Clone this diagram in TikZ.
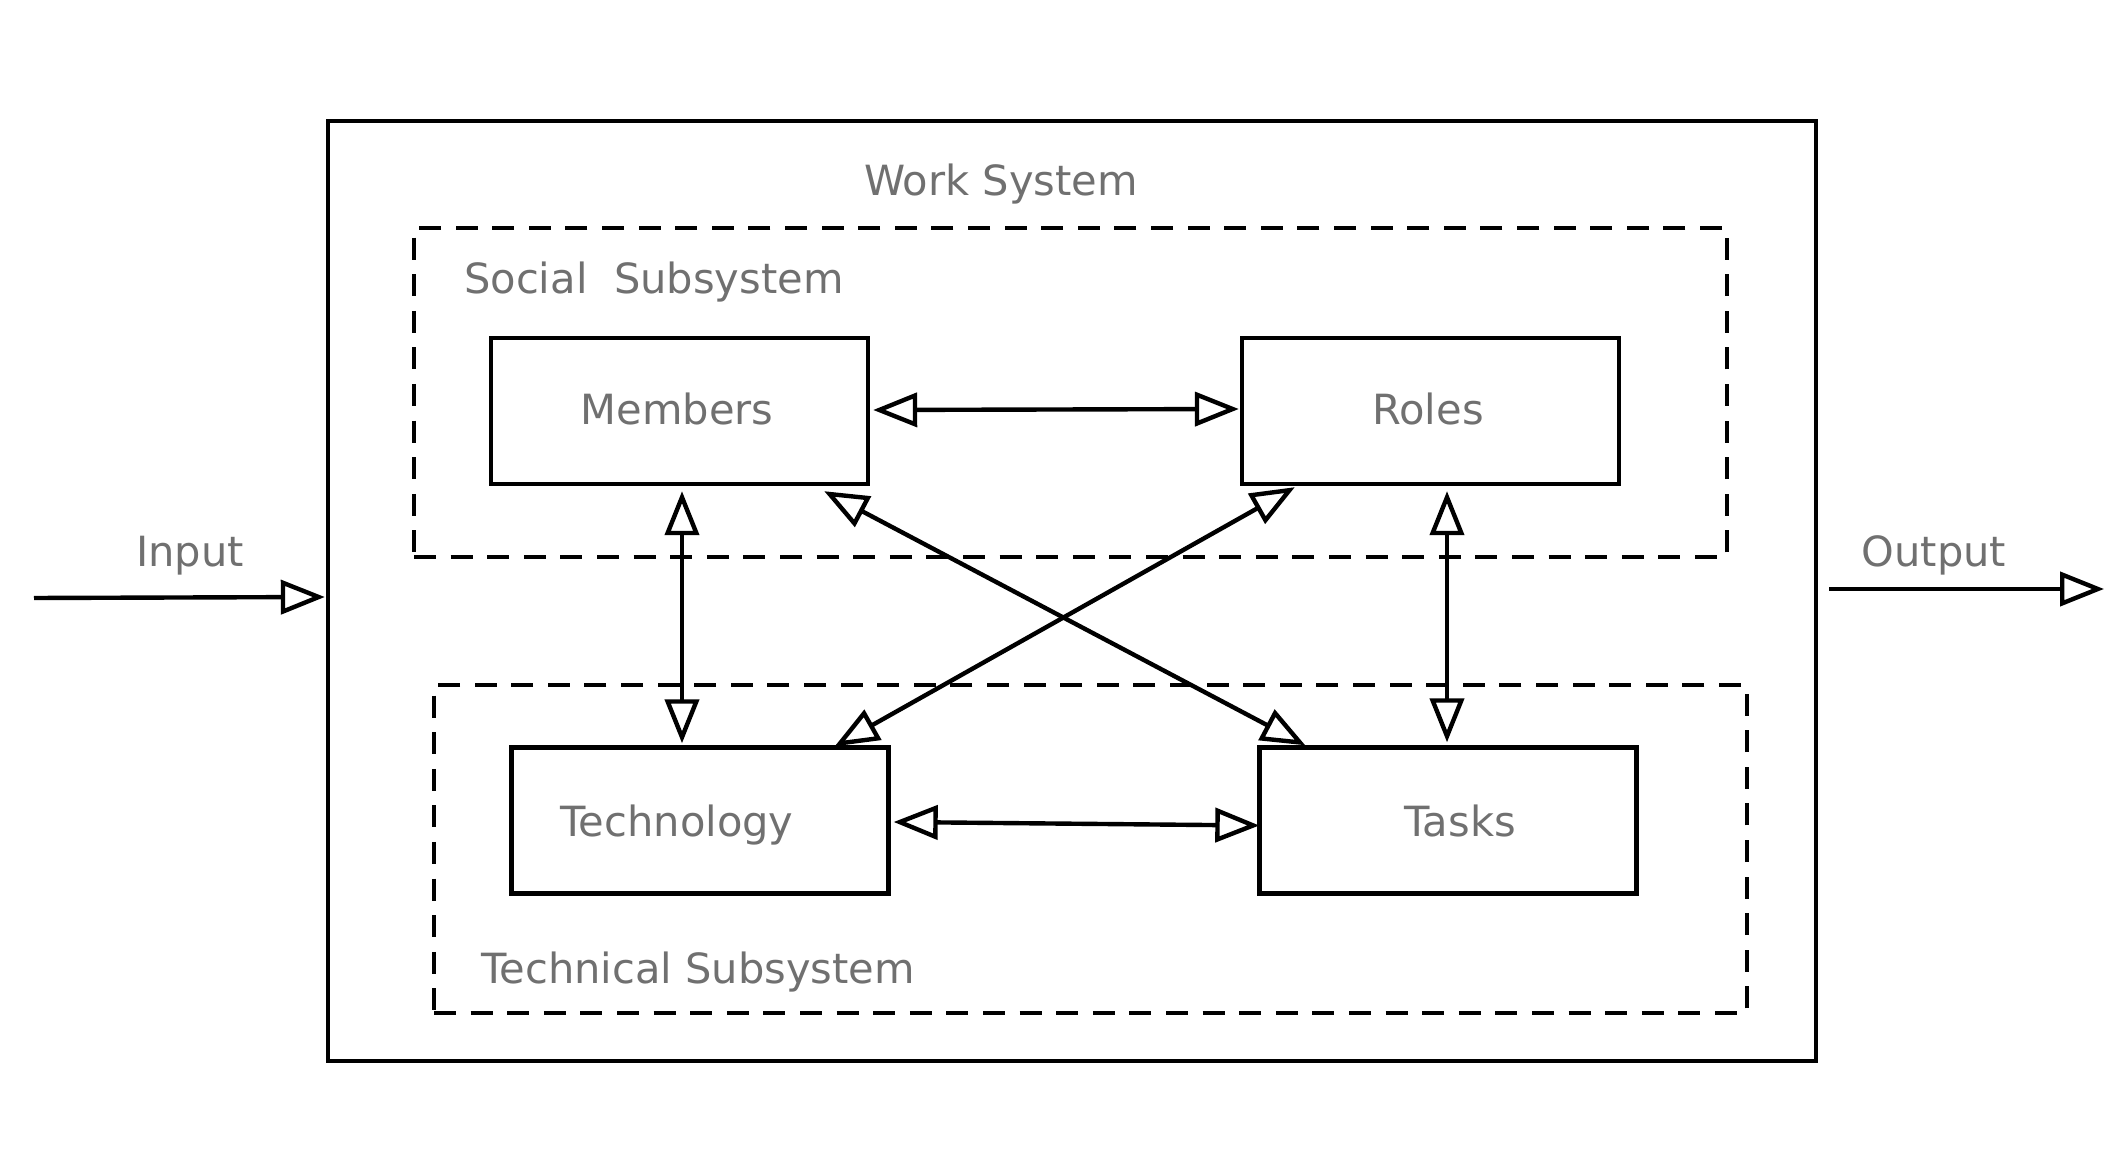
\documentclass[tikz,border=0pt]{standalone}
\usepackage{fontspec}
\setmainfont{DejaVu Sans}
\usetikzlibrary{arrows.meta, calc}

\definecolor{labelgray}{RGB}{112,112,112}

\begin{document}
\begin{tikzpicture}[x = 0.5pt, y = -0.5pt, line width = 2.2pt,
	> = {Triangle[length = 22pt, width = 17pt, fill = white]},
	box/.style = {draw, rectangle, minimum width = 188.5pt, minimum height = 73pt, inner sep = 0pt},
	subsys/.style = {draw, rectangle, dash pattern = on 11pt off 7.3pt, inner sep = 0pt},
	caption/.style = {text = labelgray, font = \fontsize{20.8pt}{25pt}\selectfont, inner sep = 0pt, anchor = base}]

	\useasboundingbox (0, 0) rectangle (2127, 1149);

	% Frames

	\node [draw, rectangle, inner sep = 0pt, minimum width = 744pt, minimum height = 470pt] (work) at (1072, 591) {};
	\node [subsys, minimum width = 656.5pt, minimum height = 164.5pt] (social) at (1070.5, 392.5) {};
	\node [subsys, minimum width = 656.5pt, minimum height = 164pt] (technical) at (1090.5, 849) {};

	\node [caption] (workText) at (1001, 196) {Work System};
	\node [caption, anchor = base west] (socialText) at (462, 294) {Social\ \ Subsystem};
	\node [caption, anchor = base west] (technicalText) at (479, 983) {Technical Subsystem};

	% Elements

	\node [box] (members) at (679.5, 411) {};
	\node [box] (roles) at (1430.5, 411) {};
	\node [box] (technology) at (700, 820.5) {};
	\node [box] (tasks) at (1448, 820.5) {};

	\node [caption] (membersText) at (677, 425) {Members};
	\node [caption] (rolesText) at (1428, 425) {Roles};
	\node [caption] (technologyText) at (677, 836) {Technology};
	\node [caption] (tasksText) at (1460, 836) {Tasks};

	% Links between elements

	\draw [<->] ($(members.east) + (3, -1)$) -- ($(roles.west) + (-1, -2)$);
	\draw [<->] ($(technology.east) + (3, 1.5)$) -- ($(tasks.west) + (2, 5)$);
	\draw [<->] ($(members.south) + (2.5, 5)$) -- ($(technology.north) + (-18, -2)$);
	\draw [<->] ($(roles.south) + (16.5, 5)$) -- ($(tasks.north) + (-1, -3)$);
	\draw [<->] ($(members.south east) + (-46, 5)$) -- ($(tasks.north west) + (48, 0)$);
	\draw [<->] ($(roles.south west) + (55, 1)$) -- ($(technology.north east) + (-56, 1)$);

	% Input and output

	\coordinate (source) at (34, 598);
	\coordinate (sink) at (2104, 589);

	\draw [->] (source) -- ($(work.west) + (-1, 6)$);
	\draw [->] ($(work.east) + (11, -2)$) -- (sink);

	\node [caption] (inputText) at (190, 567) {Input};
	\node [caption] (outputText) at (1934, 567) {Output};

\end{tikzpicture}
\end{document}
